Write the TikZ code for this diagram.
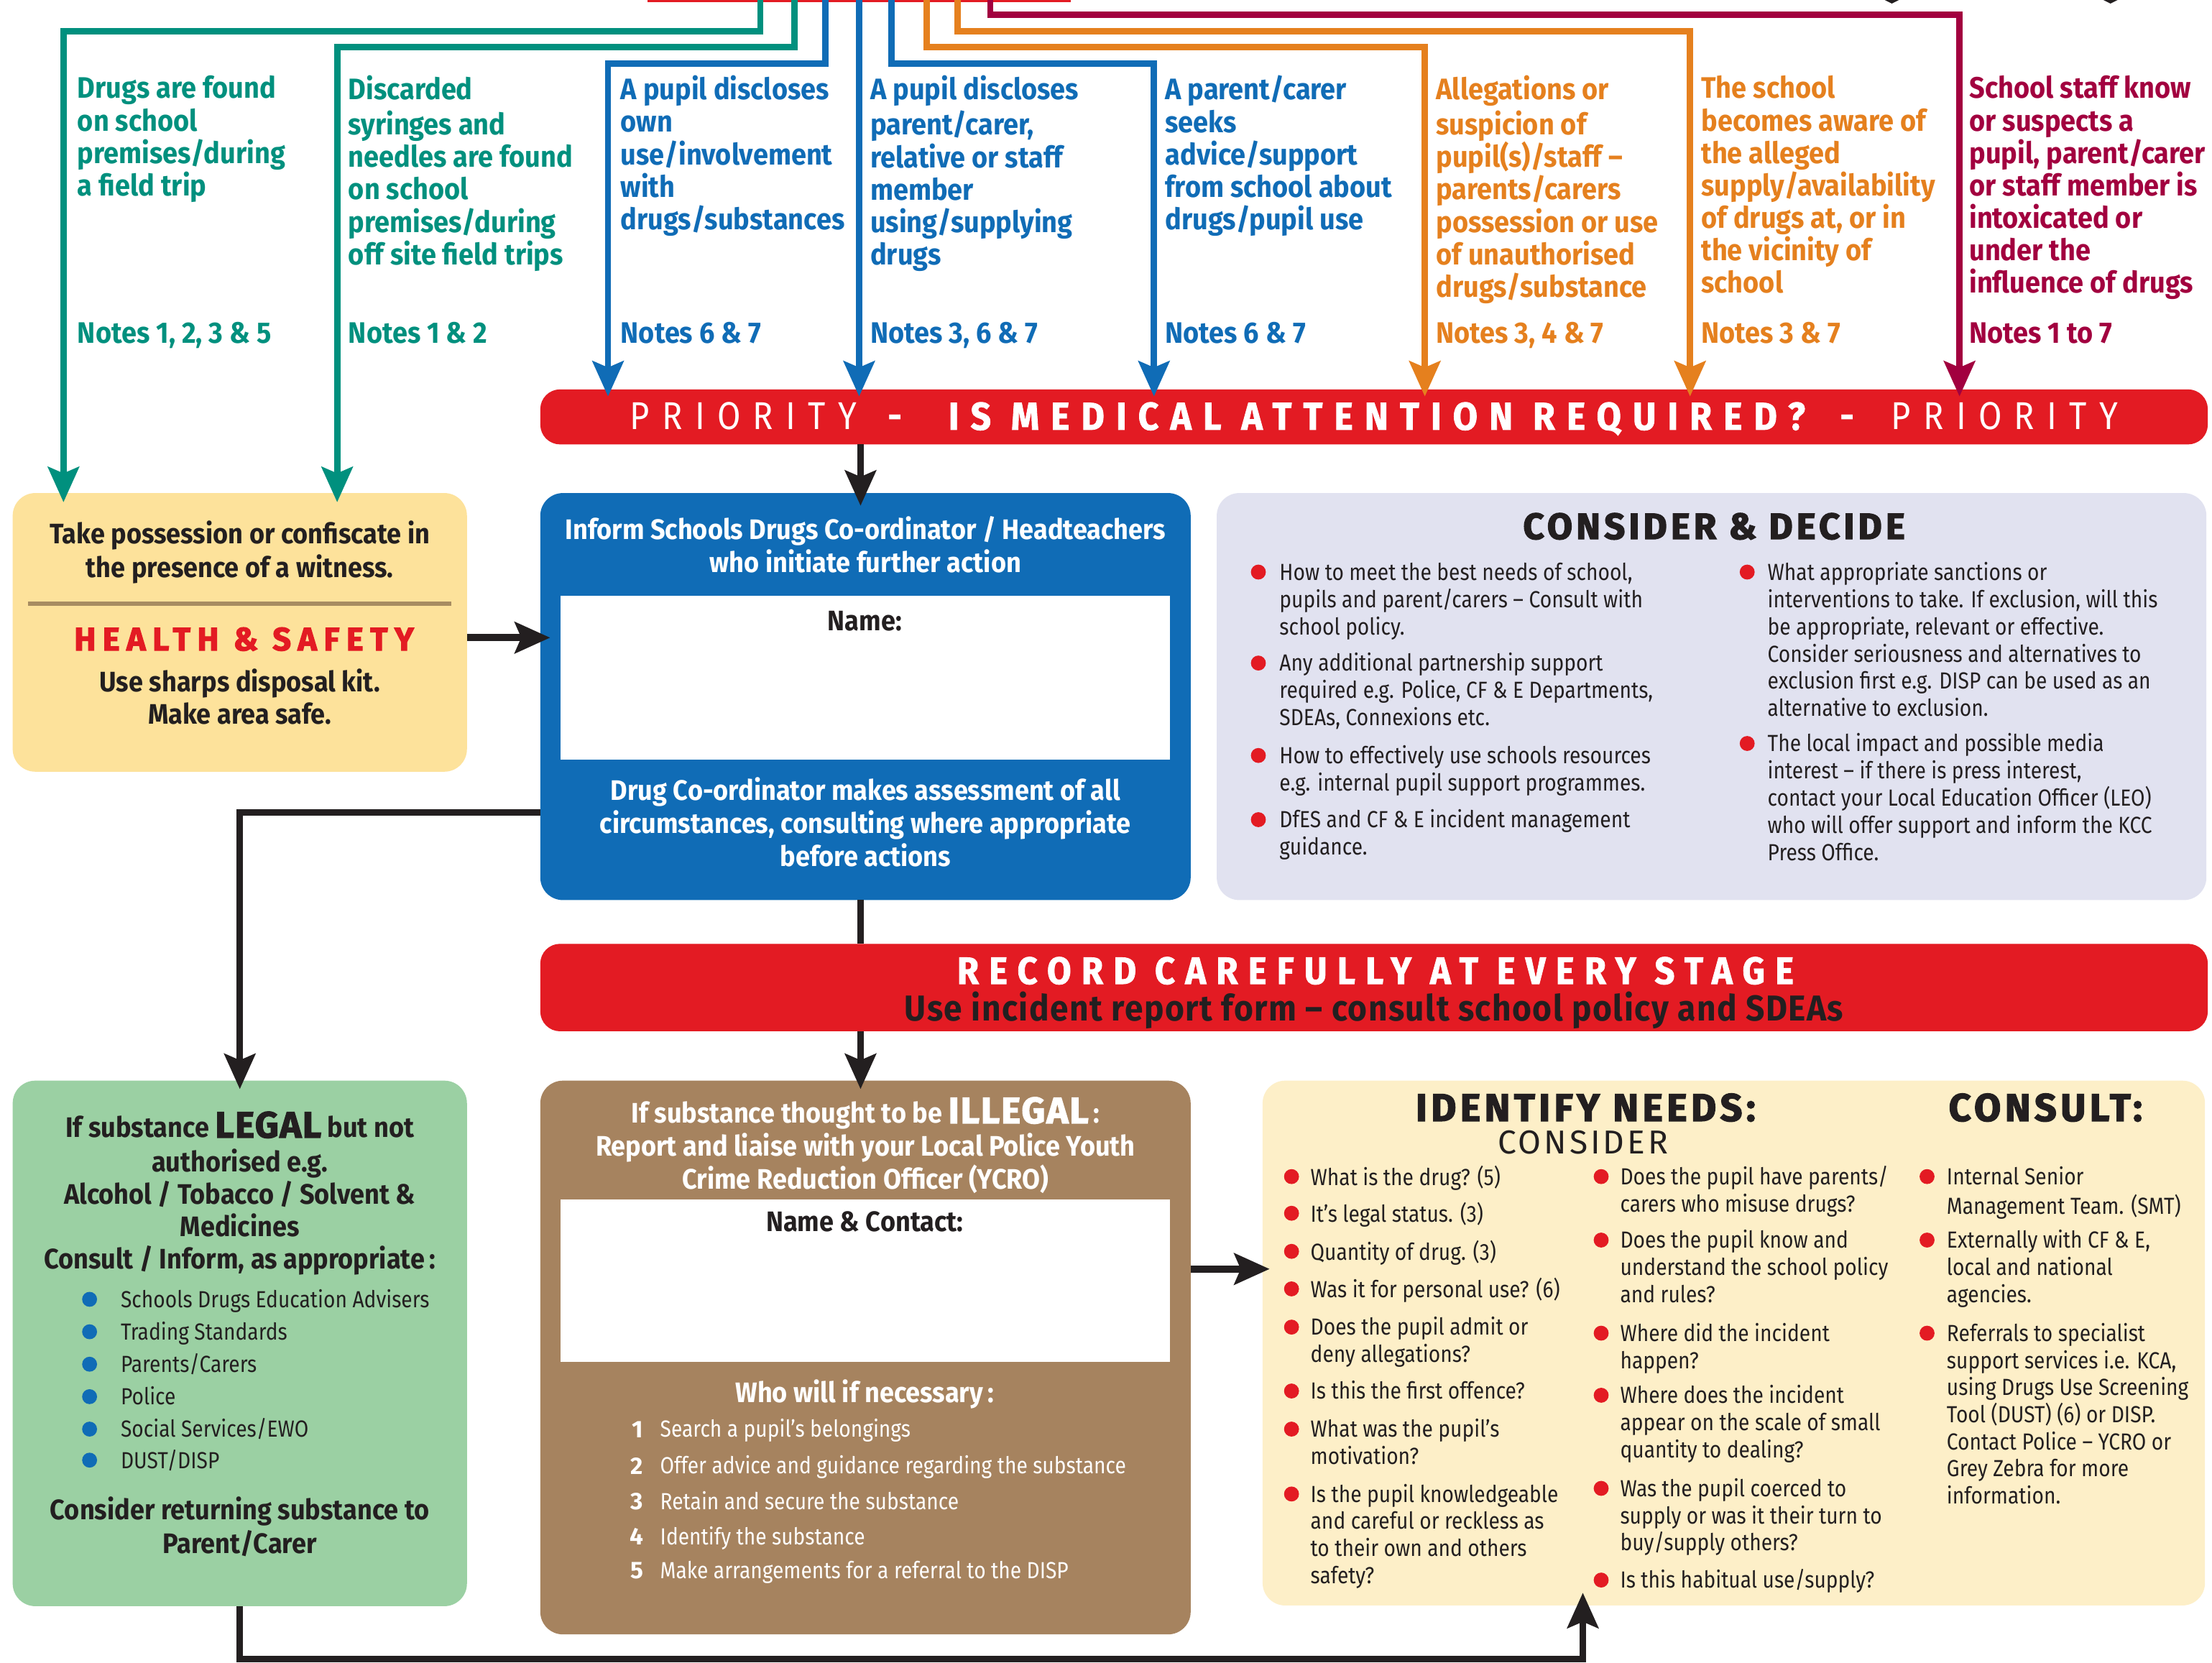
\documentclass[tikz,border=0pt]{standalone}
\usepackage{fontspec}
\setmainfont{Fira Sans}[FakeStretch=0.87]
\newfontfamily\bfam{Fira Sans}[FakeStretch=0.92]
\newfontfamily\wf{Fira Sans}
\newfontfamily\hv{Fira Sans}[FakeBold=2.5]
\newcommand\bb{\bfam\bfseries}
\usetikzlibrary{arrows.meta}
\definecolor{cteal}{HTML}{00907E}
\definecolor{cblue}{HTML}{106CB6}
\definecolor{corange}{HTML}{E5801E}
\definecolor{cmag}{HTML}{A2003F}
\definecolor{cred}{HTML}{E31B23}
\definecolor{cyel}{HTML}{FDE29B}
\definecolor{clav}{HTML}{E1E2F0}
\definecolor{cgreen}{HTML}{9BD0A3}
\definecolor{cbrown}{HTML}{A6835F}
\definecolor{ccream}{HTML}{FDEFC8}
\definecolor{cdark}{HTML}{231F20}
\definecolor{csep}{HTML}{A78C61}
% text node: [opts]{name}{x}{y-centre of first line}{size}{baselineskip}{font cmds}{text}
\newcommand\tx[8][]{\node[inner sep=0pt,outer sep=0pt,anchor=north,align=center,font=\fontsize{#5}{#6}\selectfont#7,#1] (#2) at (#3,{#4+0.35*#5-0.7*#6}) {\strut #8\strut};}
\def\itbs{19.2}
% bullet item: {colour}{bullet x}{text x}{y}{name}{text}
\newcommand\bi[6]{\fill[#1] (#2,#4) circle (5.3pt); \tx[anchor=north west,align=left,text=cdark]{#5}{#3}{#4}{16.5}{\itbs}{}{#6}}
\begin{document}
\begin{tikzpicture}[x=1pt,y=-1pt,
  box/.style={inner sep=0pt,outer sep=0pt,anchor=north west,rounded corners=16pt},
  barbox/.style={inner sep=0pt,outer sep=0pt,anchor=north west,rounded corners=14pt,fill=cred},
  lnk/.style={line width=4.5pt},
  tip/.style={-{Stealth[length=25pt,width=22pt,inset=4.5pt]}},
  ql/.style={anchor=north west,align=left}]
\useasboundingbox (0,0) rectangle (1568,1178.3);
\fill[white] (0,0) rectangle (1568,1178.3);

% ---------- boxes
\node[barbox,minimum width=1182pt,minimum height=39pt] (bar1) at (383,276) {};
\node[barbox,minimum width=1182pt,minimum height=62pt] (bar2) at (383,669) {};
\node[box,fill=cyel,minimum width=322pt,minimum height=197.5pt] (yel) at (9,349.5) {};
\node[box,fill=cblue,minimum width=461pt,minimum height=288.5pt] (blue) at (383,349.5) {};
\node[box,fill=clav,minimum width=701.5pt,minimum height=288.5pt] (lav) at (862.5,349.5) {};
\node[box,fill=cgreen,minimum width=322pt,minimum height=372.5pt] (green) at (9,766) {};
\node[box,fill=cbrown,minimum width=461pt,minimum height=392.5pt] (brown) at (383,766) {};
\node[box,fill=ccream,minimum width=668pt,minimum height=372pt] (cream) at (895,766) {};
\node[inner sep=0pt,anchor=north west,fill=white,minimum width=432pt,minimum height=116pt] (namebox) at (397,422) {};
\node[inner sep=0pt,anchor=north west,fill=white,minimum width=432pt,minimum height=115pt] (contactbox) at (397,850) {};

% ---------- top routing
\fill[cred] (459,0) rectangle (759,1.6);
\fill[cdark] (1336,0) -- (1346,0) -- (1341,2.5) -- cycle;
\fill[cdark] (1491,0) -- (1501,0) -- (1496,2.5) -- cycle;
\coordinate (s1) at (539,0);  \coordinate (c1) at (45,22);
\coordinate (s2) at (563,0);  \coordinate (c2) at (239,33.5);
\coordinate (s3) at (585,0);  \coordinate (c3) at (431,45);
\coordinate (s4) at (609,0);
\coordinate (s5) at (632,0);  \coordinate (c5) at (818,45);
\coordinate (s6) at (657,0);  \coordinate (c6) at (1010,33.5);
\coordinate (s7) at (679,0);  \coordinate (c7) at (1198,22);
\coordinate (s8) at (702,0);  \coordinate (c8) at (1389,10.5);
\draw[lnk,tip,cteal,shorten >=-6.5pt] (s1) |- (c1) -- (c1 |- yel.north);
\draw[lnk,tip,cteal,shorten >=-6.5pt] (s2) |- (c2) -- (c2 |- yel.north);
\draw[lnk,tip,cblue,shorten >=-5pt] (s3) |- (c3) -- (c3 |- bar1.north);
\draw[lnk,tip,cblue,shorten >=-5pt] (s4) -- (s4 |- bar1.north);
\draw[lnk,tip,cblue,shorten >=-5pt] (s5) |- (c5) -- (c5 |- bar1.north);
\draw[lnk,tip,corange,shorten >=-5pt] (s6) |- (c6) -- (c6 |- bar1.north);
\draw[lnk,tip,corange,shorten >=-5pt] (s7) |- (c7) -- (c7 |- bar1.north);
\draw[lnk,tip,cmag,shorten >=-5pt] (s8) |- (c8) -- (c8 |- bar1.north);

% ---------- top column texts
\tx[ql,text=cteal]{q1}{55}{62.4}{21}{23}{\bb}{Drugs are found\\on school\\premises/during\\a field trip}
\tx[ql,text=cteal]{n1}{55}{236}{21}{23}{\bb}{Notes 1, 2, 3 \& 5}
\tx[ql,text=cteal]{q2}{247}{62.4}{21}{23}{\bb}{Discarded\\syringes and\\needles are found\\on school\\premises/during\\off site field trips}
\tx[ql,text=cteal]{n2}{247}{236}{21}{23}{\bb}{Notes 1 \& 2}
\tx[ql,text=cblue]{q3}{440}{62.4}{21}{23}{\bb}{A pupil discloses\\own\\use/involvement\\with\\drugs/substances}
\tx[ql,text=cblue]{n3}{440}{236}{21}{23}{\bb}{Notes 6 \& 7}
\tx[ql,text=cblue]{q4}{617}{62.4}{21}{23}{\bb}{A pupil discloses\\parent/carer,\\relative or staff\\member\\using/supplying\\drugs}
\tx[ql,text=cblue]{n4}{617}{236}{21}{23}{\bb}{Notes 3, 6 \& 7}
\tx[ql,text=cblue]{q5}{826}{62.4}{21}{23}{\bb}{A parent/carer\\seeks\\advice/support\\from school about\\drugs/pupil use}
\tx[ql,text=cblue]{n5}{826}{236}{21}{23}{\bb}{Notes 6 \& 7}
\tx[ql,text=corange]{q6}{1018}{62.4}{21}{23}{\bb}{Allegations or\\suspicion of\\pupil(s)/staff –\\parents/carers\\possession or use\\of unauthorised\\drugs/substance}
\tx[ql,text=corange]{n6}{1018}{236}{21}{23}{\bb}{Notes 3, 4 \& 7}
\tx[ql,text=corange]{q7}{1206}{62.4}{21}{23}{\bb}{The school\\becomes aware of\\the alleged\\supply/availability\\of drugs at, or in\\the vicinity of\\school}
\tx[ql,text=corange]{n7}{1206}{236}{21}{23}{\bb}{Notes 3 \& 7}
\tx[ql,text=cmag]{q8}{1396}{62.4}{21}{23}{\bb}{School staff know\\or suspects a\\pupil, parent/carer\\or staff member is\\intoxicated or\\under the\\influence of drugs}
\tx[ql,text=cmag]{n8}{1396}{236}{21}{23}{\bb}{Notes 1 to 7}

% ---------- priority bar
\tx[text=white]{pr1}{527}{295}{27.5}{30}{\addfontfeature{LetterSpace=32}}{PRIORITY}
\tx[text=white]{pd1}{634.5}{295}{27.5}{30}{\bb}{-}
\tx[text=white]{pr2}{976}{295}{27.5}{30}{\bb\addfontfeature{LetterSpace=30,FakeBold=1.5}}{IS MEDICAL ATTENTION REQUIRED?}
\tx[text=white]{pd2}{1309.5}{295}{27.5}{30}{\bb}{-}
\tx[text=white]{pr3}{1421}{295}{27.5}{30}{\addfontfeature{LetterSpace=32}}{PRIORITY}

% ---------- yellow box
\tx[text=cdark]{y1}{170}{378}{20}{23}{\bb}{Take possession or confiscate in\\the presence of a witness.}
\draw[csep,line width=3pt] (20,428) -- (320,428);
\tx[text=cred]{y2}{173}{453}{23}{26}{\hv\bfseries\addfontfeature{LetterSpace=21}}{HEALTH \& SAFETY}
\tx[text=cdark]{y3}{170}{483}{20}{23}{\bb}{Use sharps disposal kit.\\Make area safe.}

% ---------- blue box
\tx[text=white]{b1}{613.5}{375.5}{20}{23.5}{\bb}{Inform Schools Drugs Co-ordinator / Headteachers\\who initiate further action}
\tx[text=cdark]{b2}{613}{440}{20}{23}{\bb}{Name:}
\tx[text=white]{b3}{613.5}{560}{20}{23.5}{\bb}{Drug Co-ordinator makes assessment of all\\circumstances, consulting where appropriate\\before actions}

% ---------- consider & decide
\tx[text=cdark]{l0}{1215}{373}{26}{30}{\hv\bfseries\addfontfeature{LetterSpace=10}}{CONSIDER \& DECIDE}
\def\itbs{19.3}
\bi{cred}{892}{907}{405.5}{l1}{How to meet the best needs of school,\\pupils and parent/carers – Consult with\\school policy.}
\bi{cred}{892}{907}{470}{l2}{Any additional partnership support\\required e.g. Police, CF \& E Departments,\\SDEAs, Connexions etc.}
\bi{cred}{892}{907}{535.5}{l3}{How to effectively use schools resources\\e.g. internal pupil support programmes.}
\bi{cred}{892}{907}{581}{l4}{DfES and CF \& E incident management\\guidance.}
\bi{cred}{1238.5}{1253}{405.5}{l5}{What appropriate sanctions or\\interventions to take. If exclusion, will this\\be appropriate, relevant or effective.\\Consider seriousness and alternatives to\\exclusion first e.g. DISP can be used as an\\alternative to exclusion.}
\bi{cred}{1238.5}{1253}{527}{l6}{The local impact and possible media\\interest – if there is press interest,\\contact your Local Education Officer (LEO)\\who will offer support and inform the KCC\\Press Office.}

% ---------- record bar
\tx[text=white]{rc1}{975}{688}{27}{30}{\bb\addfontfeature{LetterSpace=27,FakeBold=1.5}}{RECORD CAREFULLY AT EVERY STAGE}
\tx[text=cdark]{rc2}{974}{712}{25.5}{26}{\bb\addfontfeature{LetterSpace=3}}{Use incident report form – consult school policy and SDEAs}

% ---------- green box
\tx[text=cdark]{g1}{170}{797}{20}{23}{\bb}{If substance {\hv\fontsize{26}{23}\selectfont\addfontfeature{LetterSpace=3}LEGAL} but not\\authorised e.g.\\Alcohol / Tobacco / Solvent \&\\Medicines\\Consult / Inform, as appropriate\,:}
\def\itbs{20}
\bi{cblue}{63.5}{85.6}{921}{g2}{Schools Drugs Education Advisers}
\bi{cblue}{63.5}{85.6}{944}{g3}{Trading Standards}
\bi{cblue}{63.5}{85.6}{967}{g4}{Parents/Carers}
\bi{cblue}{63.5}{85.6}{990}{g5}{Police}
\bi{cblue}{63.5}{85.6}{1013}{g6}{Social Services/EWO}
\bi{cblue}{63.5}{85.6}{1035}{g7}{DUST/DISP}
\tx[text=cdark]{g8}{170}{1070}{20}{23}{\bb}{Consider returning substance to\\Parent/Carer}

% ---------- brown box
\tx[text=white]{r1}{613.5}{787}{20}{23.3}{\bb}{If substance thought to be {\hv\fontsize{26}{23.3}\selectfont\addfontfeature{LetterSpace=4}ILLEGAL}\,:\\Report and liaise with your Local Police Youth\\Crime Reduction Officer (YCRO)}
\tx[text=cdark]{r2}{613}{866}{20}{23}{\bb}{Name \& Contact:}
\tx[text=white]{r3}{613}{987}{20}{23}{\bb}{Who will if necessary\,:}
\tx[anchor=north east,text=white]{rn1}{456}{1013}{17}{20}{\wf\bfseries}{1}
\tx[ql,text=white]{rt1}{468}{1013}{16.5}{20}{}{Search a pupil’s belongings}
\tx[anchor=north east,text=white]{rn2}{456}{1039}{17}{20}{\wf\bfseries}{2}
\tx[ql,text=white]{rt2}{468}{1039}{16.5}{20}{}{Offer advice and guidance regarding the substance}
\tx[anchor=north east,text=white]{rn3}{456}{1064}{17}{20}{\wf\bfseries}{3}
\tx[ql,text=white]{rt3}{468}{1064}{16.5}{20}{}{Retain and secure the substance}
\tx[anchor=north east,text=white]{rn4}{456}{1089}{17}{20}{\wf\bfseries}{4}
\tx[ql,text=white]{rt4}{468}{1089}{16.5}{20}{}{Identify the substance}
\tx[anchor=north east,text=white]{rn5}{456}{1113}{17}{20}{\wf\bfseries}{5}
\tx[ql,text=white]{rt5}{468}{1113}{16.5}{20}{}{Make arrangements for a referral to the DISP}

% ---------- cream box
\tx[text=cdark]{c0}{1124}{785}{27.5}{30}{\hv\bfseries\addfontfeature{LetterSpace=10}}{IDENTIFY NEEDS:}
\tx[text=cdark]{c00}{1122}{809.5}{23.5}{26}{\wf\addfontfeature{LetterSpace=8.5}}{CONSIDER}
\tx[text=cdark]{c01}{1450}{785}{27.5}{30}{\hv\bfseries\addfontfeature{LetterSpace=10}}{CONSULT:}
\def\itbs{19.2}
\bi{cred}{915.5}{929}{834}{i1}{What is the drug? (5)}
\bi{cred}{915.5}{929}{860}{i2}{It’s legal status. (3)}
\bi{cred}{915.5}{929}{887}{i3}{Quantity of drug. (3)}
\bi{cred}{915.5}{929}{913.6}{i4}{Was it for personal use? (6)}
\bi{cred}{915.5}{929}{940.7}{i5}{Does the pupil admit or\\deny allegations?}
\bi{cred}{915.5}{929}{986}{i6}{Is this the first offence?}
\bi{cred}{915.5}{929}{1013}{i7}{What was the pupil’s\\motivation?}
\bi{cred}{915.5}{929}{1059}{i8}{Is the pupil knowledgeable\\and careful or reckless as\\to their own and others\\safety?}
\bi{cred}{1135}{1148.5}{834}{j1}{Does the pupil have parents/\\carers who misuse drugs?}
\bi{cred}{1135}{1148.5}{879}{j2}{Does the pupil know and\\understand the school policy\\and rules?}
\bi{cred}{1135}{1148.5}{945}{j3}{Where did the incident\\happen?}
\bi{cred}{1135}{1148.5}{989}{j4}{Where does the incident\\appear on the scale of small\\quantity to dealing?}
\bi{cred}{1135}{1148.5}{1055}{j5}{Was the pupil coerced to\\supply or was it their turn to\\buy/supply others?}
\bi{cred}{1135}{1148.5}{1120}{j6}{Is this habitual use/supply?}
\bi{cred}{1366}{1380}{834}{k1}{Internal Senior\\Management Team. (SMT)}
\bi{cred}{1366}{1380}{879}{k2}{Externally with CF \& E,\\local and national\\agencies.}
\bi{cred}{1366}{1380}{945}{k3}{Referrals to specialist\\support services i.e. KCA,\\using Drugs Use Screening\\Tool (DUST) (6) or DISP.\\Contact Police – YCRO or\\Grey Zebra for more\\information.}

% ---------- black connectors
\coordinate (vx) at (610,0);
\coordinate (ay) at (0,452);
\coordinate (gx) at (170,576);
\coordinate (cy) at (0,899.5);
\coordinate (by) at (1122,1176);
\draw[lnk,tip,cdark,shorten >=-9pt] (bar1.south -| vx) -- (blue.north -| vx);
\draw[lnk,cdark] (blue.south -| vx) -- (bar2.north -| vx);
\draw[lnk,tip,cdark,shorten >=-6pt] (bar2.south -| vx) -- (brown.north -| vx);
\draw[line width=5pt,tip,cdark,shorten >=-7pt] (yel.east |- ay) -- (blue.west |- ay);
\draw[lnk,tip,cdark,shorten >=-6pt] (blue.west |- gx) -| (green.north -| gx);
\draw[line width=5pt,tip,cdark,shorten >=-5pt] (brown.east |- cy) -- (cream.west |- cy);
\draw[lnk,tip,cdark,shorten >=-9pt] (green.south -| gx) |- (by) -- (cream.south -| by);
\end{tikzpicture}
\end{document}
